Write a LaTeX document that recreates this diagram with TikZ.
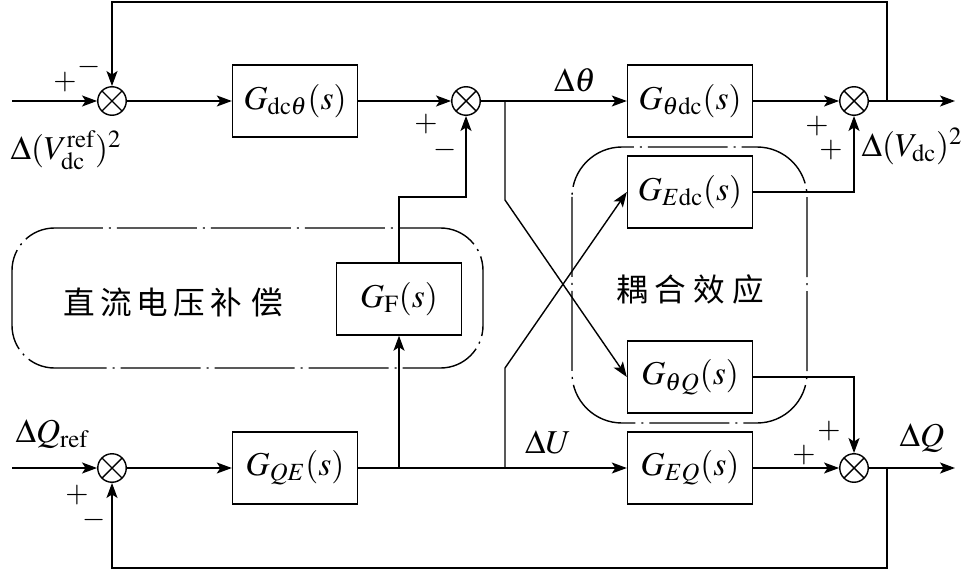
\documentclass[tikz,border=0pt]{standalone}
\usepackage{mathptmx}
\usepackage[no-math]{fontspec}
\setmainfont{Liberation Serif}
\newfontfamily\cjk{Noto Sans CJK SC}
\usetikzlibrary{arrows.meta}
\begin{document}
\begin{tikzpicture}[x=0.02cm,y=-0.02cm, line width=0.8pt,
  >={Stealth[length=0.3cm,width=0.22cm,inset=0.07cm]},
  blk/.style={draw, minimum width=2.5cm, minimum height=1.44cm, inner sep=0pt,
    font=\fontsize{19}{22}\selectfont},
  sumj/.style={draw, circle, minimum size=0.57cm, inner sep=0pt,
    path picture={\draw (path picture bounding box.north west) -- (path picture bounding box.south east)
      (path picture bounding box.north east) -- (path picture bounding box.south west);}},
  lbl/.style={font=\fontsize{19}{22}\selectfont, inner sep=0pt},
  sgn/.style={font=\fontsize{17}{20}\selectfont, inner sep=0pt},
  grp/.style={dash pattern=on 1.6cm off 0.12cm on 0.04cm off 0.12cm},
  cjkt/.style={font=\cjk\fontsize{18}{22}\selectfont, inner sep=0pt}]
\useasboundingbox (0,0) rectangle (966,571);

% group frames
\draw[grp, rounded corners=0.85cm] (12,228) rectangle (483,368);
\draw[grp, rounded corners=1cm] (572,147) rectangle (807,423);
\node[cjkt] (t1) at (173,302) {直\kern3pt 流\kern3pt 电\kern3pt 压\kern3pt 补\kern5pt 偿};
\node[cjkt] (t2) at (690,289) {耦\kern4pt 合\kern4pt 效\kern4pt 应};

% junctions
\node[sumj] (s1) at (112,101) {};
\node[sumj] (s2) at (466,101) {};
\node[sumj] (s3) at (854,101) {};
\node[sumj] (s4) at (112,468) {};
\node[sumj] (s5) at (854,468) {};

% blocks
\node[blk] (b1) at (295,101) {$G_{\mathrm{dc}\theta}(s)$};
\node[blk] (b2) at (690,101) {$G_{\theta\mathrm{dc}}(s)$};
\node[blk] (b3) at (690,192) {$G_{E\mathrm{dc}}(s)$};
\node[blk] (b4) at (690,377) {$G_{\theta Q}(s)$};
\node[blk] (b5) at (399,299) {$G_{\mathrm{F}}(s)$};
\node[blk] (b6) at (295,468) {$G_{QE}(s)$};
\node[blk] (b7) at (690,468) {$G_{EQ}(s)$};

% coordinates
\coordinate (in1) at (12,101);
\coordinate (in2) at (12,468);
\coordinate (out1) at (955,101);
\coordinate (out2) at (955,468);
\coordinate (fb1) at (887,101);
\coordinate (fb2) at (887,468);
\coordinate (br1) at (505,101);
\coordinate (br2) at (505,468);
\coordinate (br3) at (399,468);
\coordinate (k1) at (505,200);
\coordinate (k2) at (505,368);

% top row
\draw[->] (in1) -- (s1);
\draw[->] (s1) -- (b1);
\draw[->] (b1) -- (s2);
\draw[->] (s2) -- (b2);
\draw[->] (b2) -- (s3);
\draw[->] (s3) -- (out1);
\draw[->] (fb1) -- (887,2) -| (s1);

% bottom row
\draw[->] (in2) -- (s4);
\draw[->] (s4) -- (b6);
\draw[->] (b6) -- (b7);
\draw[->] (b7) -- (s5);
\draw[->] (s5) -- (out2);
\draw[->] (fb2) -- (887,568) -| (s4);

% compensation path
\draw[->] (br3) -- (b5);
\draw[->] (b5) |- (466,197) -- (s2);

% coupling paths
\draw[->] (br1) -- (k1) -- (b4.west);
\draw[->] (br2) -- (k2) -- (b3.west);
\draw[->] (b3) -| (s3);
\draw[->] (b4) -| (s5);

% labels
\node[sgn] (p1) at (65,82) {$+$};
\node[sgn] (m1) at (89,67) {$-$};
\node[lbl] (l1) at (66,150) {$\Delta(V_{\mathrm{dc}}^{\mathrm{ref}})^2$};
\node[sgn] (p2) at (426,124) {$+$};
\node[sgn] (m2) at (445,150) {$-$};
\node[lbl] (l2) at (575,80) {$\Delta\theta$};
\node[sgn] (p3) at (817,126) {$+$};
\node[sgn] (p4) at (831,150) {$+$};
\node[lbl] (l3) at (912,146) {$\Delta(V_{\mathrm{dc}})^2$};
\node[lbl] (l4) at (52,434) {$\Delta Q_{\mathrm{ref}}$};
\node[sgn] (p5) at (77,495) {$+$};
\node[sgn] (m5) at (94,520) {$-$};
\node[lbl] (l5) at (548,442) {$\Delta U$};
\node[sgn] (p6) at (829,431) {$+$};
\node[sgn] (p7) at (804,455) {$+$};
\node[lbl] (l6) at (922,438) {$\Delta Q$};
\end{tikzpicture}
\end{document}
